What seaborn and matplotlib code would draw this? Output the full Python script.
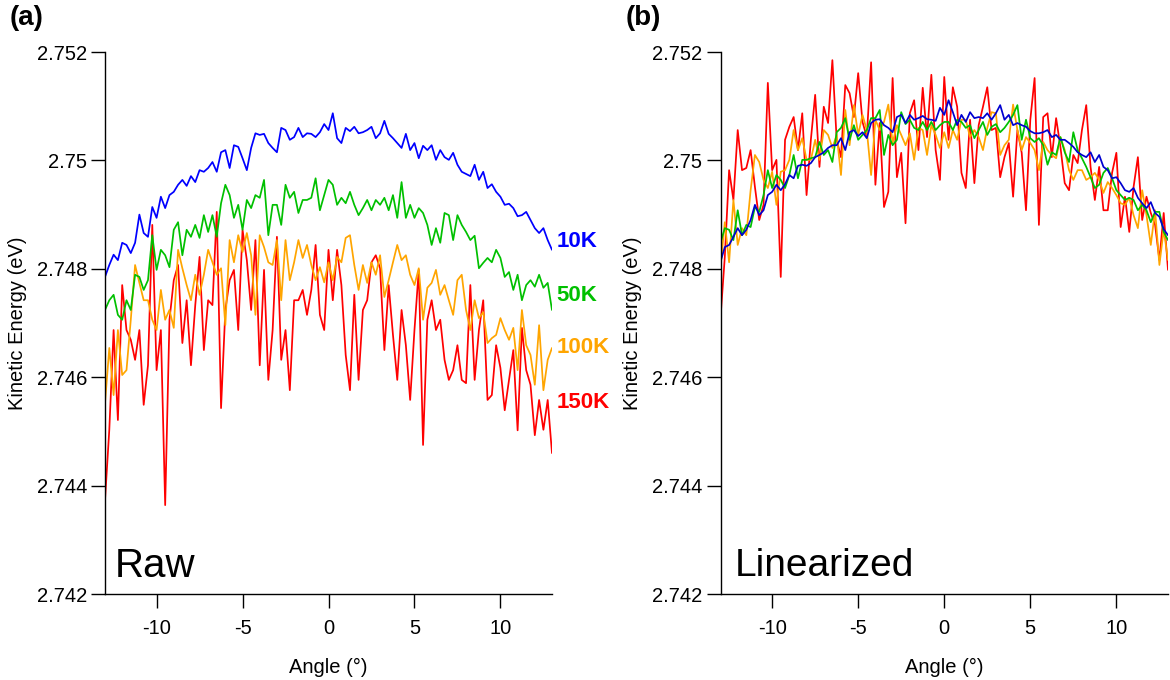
import numpy as np
import matplotlib
matplotlib.use("Agg")
import matplotlib.pyplot as plt
import seaborn as sns

# Kinetic energy of the band maximum, in meV above 2.740 eV,
# sampled on a uniform detector-angle grid from -13 to +13 degrees.
BASE_EV = 2.740

raw_10k = [
    7.85, 8.07, 8.26, 8.16, 8.48, 8.44, 8.29, 8.48, 9.00, 8.66,
    8.59, 9.14, 8.94, 9.33, 9.12, 9.36, 9.42, 9.55, 9.64, 9.53,
    9.71, 9.60, 9.82, 9.79, 9.86, 9.97, 9.79, 10.15, 10.19, 9.86,
    10.28, 10.25, 10.04, 9.82, 10.23, 10.50, 10.47, 10.49, 10.32, 10.23,
    10.15, 10.60, 10.56, 10.38, 10.43, 10.60, 10.43, 10.50, 10.49, 10.43,
    10.52, 10.67, 10.56, 10.87, 10.41, 10.32, 10.60, 10.54, 10.62, 10.50,
    10.52, 10.56, 10.62, 10.41, 10.50, 10.73, 10.49, 10.41, 10.32, 10.23,
    10.49, 10.19, 10.32, 10.04, 10.27, 10.19, 10.28, 10.01, 10.19, 10.06,
    10.01, 10.14, 9.92, 9.79, 9.75, 9.71, 9.92, 9.64, 9.79, 9.49,
    9.56, 9.42, 9.33, 9.18, 9.20, 9.12, 8.97, 8.99, 9.05, 8.90,
    8.75, 8.66, 8.75, 8.53, 8.35,
]
raw_50k = [
    7.24, 7.42, 7.52, 7.15, 7.06, 7.42, 7.24, 7.89, 7.85, 7.61,
    7.79, 8.62, 7.98, 8.35, 8.25, 8.03, 8.72, 8.86, 8.25, 8.72,
    8.59, 8.81, 8.57, 8.99, 8.68, 8.99, 8.59, 9.21, 9.55, 9.36,
    8.94, 9.18, 8.72, 9.27, 9.12, 9.36, 9.31, 9.64, 8.62, 9.18,
    9.18, 8.81, 9.55, 9.31, 9.42, 9.03, 9.27, 9.27, 9.31, 9.67,
    9.08, 9.36, 9.64, 9.55, 9.18, 9.31, 9.21, 9.42, 9.18, 8.99,
    9.12, 9.27, 9.08, 9.27, 9.18, 9.31, 9.08, 9.36, 8.94, 9.60,
    8.94, 9.18, 8.94, 9.12, 9.03, 8.81, 8.44, 8.75, 8.48, 9.03,
    8.99, 8.53, 8.99, 8.81, 8.68, 8.53, 8.61, 8.01, 8.11, 8.20,
    8.12, 8.35, 8.20, 7.85, 7.94, 7.61, 7.89, 7.42, 7.70, 7.79,
    7.67, 7.89, 7.65, 7.74, 7.24,
]
raw_100k = [
    5.52, 6.54, 5.67, 6.87, 6.04, 6.13, 7.06, 8.07, 7.74, 7.42,
    7.42, 7.06, 6.87, 7.61, 7.06, 7.24, 6.91, 8.35, 8.01, 7.70,
    7.42, 7.89, 7.52, 7.89, 8.35, 8.12, 7.89, 8.01, 6.96, 8.53,
    8.12, 8.62, 8.31, 8.66, 8.25, 7.15, 8.62, 8.40, 8.12, 8.07,
    8.53, 7.42, 8.53, 7.79, 8.12, 8.53, 8.20, 8.44, 8.07, 7.79,
    8.03, 7.75, 8.12, 7.79, 8.22, 8.12, 8.57, 8.62, 8.07, 7.61,
    8.07, 7.74, 8.12, 7.89, 8.25, 7.48, 7.79, 8.12, 8.44, 8.16,
    8.25, 7.89, 7.70, 8.01, 7.06, 7.65, 7.74, 7.98, 7.52, 7.70,
    7.42, 7.15, 7.79, 7.89, 7.24, 6.87, 7.42, 7.09, 7.20, 6.63,
    6.72, 6.78, 7.09, 6.87, 6.69, 6.91, 6.13, 7.24, 6.59, 6.41,
    5.86, 6.96, 5.76, 6.32, 6.54,
]
raw_150k = [
    3.73, 5.03, 6.87, 5.21, 7.70, 6.87, 6.69, 6.32, 6.87, 5.49,
    6.22, 8.81, 6.13, 6.87, 3.64, 7.06, 7.79, 8.07, 6.63, 7.42,
    6.22, 7.33, 8.22, 6.50, 7.42, 7.33, 9.05, 5.43, 7.24, 7.79,
    7.98, 6.87, 8.72, 8.16, 7.24, 8.53, 6.22, 7.98, 5.95, 6.87,
    8.59, 6.32, 6.87, 5.76, 7.42, 7.42, 7.61, 7.15, 7.61, 8.44,
    7.15, 6.87, 8.35, 7.42, 8.35, 7.70, 6.41, 5.76, 7.52, 5.95,
    7.24, 7.42, 8.12, 8.25, 8.01, 6.50, 7.70, 6.78, 5.95, 7.24,
    6.59, 5.58, 6.87, 7.98, 4.75, 7.06, 7.42, 6.87, 7.06, 6.32,
    5.95, 6.13, 6.59, 5.95, 5.89, 7.70, 5.95, 6.87, 7.42, 5.58,
    5.67, 6.59, 6.17, 5.39, 5.95, 6.50, 5.02, 6.91, 6.13, 5.86,
    4.93, 5.58, 5.03, 5.58, 4.60,
]

lin_10k = [
    8.13, 8.40, 8.44, 8.59, 8.75, 8.62, 8.72, 8.90, 9.18, 8.99,
    9.08, 9.36, 9.42, 9.55, 9.45, 9.56, 9.73, 9.67, 9.90, 9.92,
    9.90, 9.95, 10.06, 10.10, 10.15, 10.23, 10.28, 10.28, 10.41, 10.19,
    10.52, 10.56, 10.45, 10.52, 10.41, 10.69, 10.75, 10.76, 10.65, 10.60,
    10.52, 10.80, 10.84, 10.69, 10.84, 10.75, 10.78, 10.82, 10.76, 10.75,
    10.73, 10.97, 10.84, 11.11, 10.89, 10.65, 10.84, 10.71, 10.89, 10.78,
    10.80, 10.78, 10.87, 10.75, 10.87, 11.02, 10.75, 10.84, 10.65, 10.69,
    10.65, 10.62, 10.54, 10.50, 10.50, 10.52, 10.56, 10.43, 10.47, 10.38,
    10.38, 10.32, 10.25, 10.15, 10.10, 10.06, 10.15, 9.97, 10.10, 9.88,
    9.82, 9.67, 9.69, 9.58, 9.45, 9.42, 9.49, 9.31, 9.21, 9.12,
    9.23, 9.03, 8.96, 8.73, 8.62,
]
lin_50k = [
    8.48, 8.75, 8.72, 8.53, 9.08, 8.62, 8.81, 8.77, 9.14, 9.05,
    9.36, 9.82, 9.49, 9.73, 9.64, 9.49, 9.73, 10.10, 9.67, 10.01,
    10.01, 10.04, 10.06, 10.34, 10.10, 10.19, 9.97, 10.52, 10.60, 10.78,
    10.38, 10.65, 10.38, 10.47, 10.56, 10.78, 10.78, 10.93, 10.10, 10.47,
    10.28, 10.38, 10.89, 10.67, 10.75, 10.60, 10.56, 10.71, 10.56, 10.71,
    10.56, 10.65, 10.71, 10.71, 10.56, 10.75, 10.71, 10.60, 10.65, 10.41,
    10.56, 10.71, 10.47, 10.62, 10.67, 10.52, 10.60, 10.71, 10.84, 11.02,
    10.38, 10.75, 10.41, 10.34, 10.41, 10.28, 9.92, 10.15, 10.10, 10.43,
    10.15, 9.97, 10.52, 10.19, 10.04, 9.88, 9.69, 9.49, 9.55, 9.77,
    9.86, 9.67, 9.45, 9.36, 9.27, 9.31, 9.27, 9.08, 9.18, 9.08,
    8.86, 9.05, 9.05, 8.68, 8.53,
]
lin_100k = [
    8.03, 8.86, 8.12, 9.27, 8.44, 8.75, 8.62, 9.45, 10.10, 9.97,
    9.64, 9.49, 9.79, 9.18, 9.79, 9.82, 10.01, 10.56, 10.19, 10.41,
    10.01, 10.01, 10.38, 10.01, 10.56, 10.47, 10.23, 10.47, 9.73, 10.93,
    10.28, 11.02, 10.47, 10.84, 10.56, 9.73, 10.75, 10.56, 10.71, 11.03,
    10.32, 10.65, 10.47, 10.28, 10.50, 10.01, 10.60, 10.56, 10.10, 10.65,
    10.47, 10.23, 10.52, 10.23, 10.56, 10.38, 10.75, 10.75, 10.43, 10.56,
    10.43, 10.19, 10.60, 10.89, 10.87, 10.10, 10.28, 10.38, 11.03, 10.56,
    10.19, 10.43, 10.32, 10.19, 9.82, 10.34, 10.19, 10.10, 10.04, 10.43,
    10.19, 9.82, 9.64, 9.82, 9.82, 9.64, 9.69, 9.77, 9.64, 9.40,
    9.60, 9.49, 9.36, 9.21, 9.18, 9.31, 8.99, 8.75, 9.45, 8.99,
    8.44, 9.08, 8.07, 8.72, 8.16,
]
lin_150k = [
    7.09, 8.22, 9.82, 9.27, 10.56, 9.82, 9.86, 10.19, 9.51, 8.90,
    9.18, 11.43, 9.82, 10.01, 7.85, 10.38, 10.62, 10.80, 10.19, 10.87,
    9.36, 10.38, 11.21, 9.88, 10.99, 10.69, 11.85, 10.38, 10.06, 11.39,
    11.24, 10.80, 11.61, 10.71, 10.43, 11.81, 9.55, 10.69, 9.14, 9.42,
    11.52, 9.69, 10.14, 8.84, 10.87, 11.11, 10.19, 11.34, 10.43, 11.58,
    10.19, 9.64, 11.54, 10.38, 11.35, 10.99, 9.77, 9.49, 10.75, 9.58,
    10.65, 10.99, 11.35, 10.56, 10.60, 9.69, 10.06, 10.32, 9.33, 10.56,
    10.14, 9.08, 10.75, 11.52, 8.81, 10.80, 10.87, 10.06, 10.78, 10.25,
    9.58, 9.45, 10.10, 9.95, 10.56, 11.02, 9.88, 9.27, 9.88, 9.08,
    9.08, 9.77, 10.14, 8.77, 9.33, 8.68, 9.51, 10.06, 8.90, 9.33,
    9.03, 8.81, 8.16, 9.03, 7.98,
]

temperatures = ["10K", "50K", "100K", "150K"]
raw_series = [raw_10k, raw_50k, raw_100k, raw_150k]
lin_series = [lin_10k, lin_50k, lin_100k, lin_150k]
# energy (eV) at which each temperature tag sits on the raw panel
tag_energy = [2.74851, 2.74750, 2.74654, 2.74554]

raw_colors = ["#0000FF", "#00C000", "#FFA500", "#FF0000"]
lin_colors = ["#0000D0", "#00C000", "#FFA500", "#FF0000"]

y_ticks = [2.742, 2.744, 2.746, 2.748, 2.750, 2.752]
y_ticklabels = ["2.742", "2.744", "2.746", "2.748", "2.75", "2.752"]
x_ticks = [-10, -5, 0, 5, 10]

sns.set_style("ticks")
plt.rcParams["font.family"] = ["Liberation Sans", "DejaVu Sans"]
plt.rcParams["axes.unicode_minus"] = False
plt.rcParams["text.color"] = "black"
plt.rcParams["axes.labelcolor"] = "black"
plt.rcParams["axes.edgecolor"] = "black"

FS = 14.5

fig = plt.figure(figsize=(11.7, 6.8), dpi=100)
ax_a = fig.add_axes([105 / 1170, 86 / 680, 447 / 1170, 542 / 680])
ax_b = fig.add_axes([720.5 / 1170, 86 / 680, 447.5 / 1170, 542 / 680])


def angles_for(values):
    return np.linspace(-13.0, 13.0, len(values))


def draw_panel(ax, series, colors):
    # hottest first so the coldest, smoothest trace sits on top
    for vals, col in reversed(list(zip(series, colors))):
        energy = BASE_EV + np.asarray(vals) / 1000.0
        sns.lineplot(x=angles_for(vals), y=energy, ax=ax, color=col,
                     linewidth=1.25, errorbar=None, sort=False)


def style_axes(ax):
    ax.set_xlim(-13, 13)
    ax.set_ylim(2.742, 2.752)
    ax.set_yticks(y_ticks)
    ax.set_yticklabels(y_ticklabels)
    ax.set_xticks(x_ticks)
    for side in ("top", "right"):
        ax.spines[side].set_visible(False)
    for side in ("left", "bottom"):
        ax.spines[side].set_linewidth(1.0)
        ax.spines[side].set_color("black")
    ax.tick_params(axis="both", direction="out", length=10, width=1.0,
                   colors="black", labelsize=FS)
    ax.tick_params(axis="y", pad=3)
    ax.tick_params(axis="x", pad=8)
    ax.set_xlabel("Angle (°)", fontsize=FS, labelpad=14)
    ax.set_ylabel("Kinetic Energy (eV)", fontsize=FS, labelpad=7)
    ax.grid(False)


draw_panel(ax_a, raw_series, raw_colors)
draw_panel(ax_b, lin_series, lin_colors)
style_axes(ax_a)
style_axes(ax_b)

for name, e, col in zip(temperatures, tag_energy, raw_colors):
    ax_a.text(13.27, e, name, color=col, fontsize=16, fontweight="bold",
              ha="left", va="center", clip_on=False)

ax_a.text(0.022, 0.031, "Raw", transform=ax_a.transAxes, fontsize=29,
          color="black", ha="left", va="baseline")
ax_b.text(0.032, 0.033, "Linearized", transform=ax_b.transAxes, fontsize=28,
          color="black", ha="left", va="baseline")

fig.text(0.008, 0.992, "(a)", fontsize=20, fontweight="bold", ha="left", va="top")
fig.text(0.535, 0.992, "(b)", fontsize=20, fontweight="bold", ha="left", va="top")

fig.savefig("out.png", dpi=100)
